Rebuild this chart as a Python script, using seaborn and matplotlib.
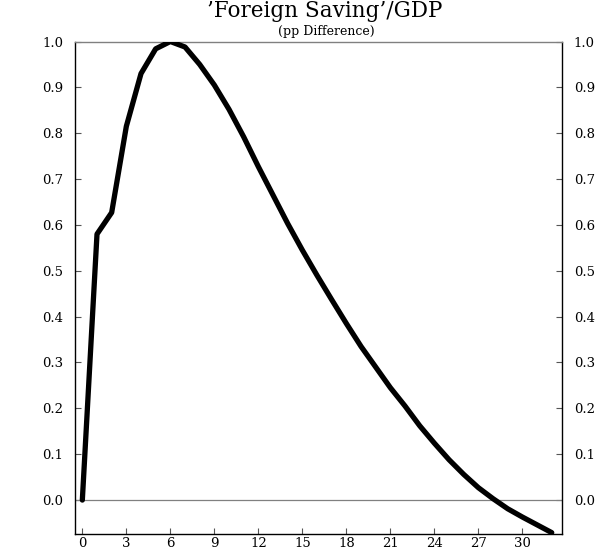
import matplotlib
matplotlib.use("Agg")
import matplotlib.pyplot as plt
import seaborn as sns
import pandas as pd

periods = list(range(0, 33))
values = [0.0, 0.58, 0.627, 0.815, 0.93, 0.984, 1.0, 0.988, 0.95, 0.905,
          0.852, 0.792, 0.727, 0.665, 0.603, 0.545, 0.49, 0.437, 0.385,
          0.335, 0.29, 0.245, 0.205, 0.162, 0.124, 0.088, 0.056, 0.027,
          0.003, -0.019, -0.037, -0.054, -0.071]
yticks = [0.0, 0.1, 0.2, 0.3, 0.4, 0.5, 0.6, 0.7, 0.8, 0.9, 1.0]
xticks = [0, 3, 6, 9, 12, 15, 18, 21, 24, 27, 30]
title = "\u2019Foreign Saving\u2019/GDP"
subtitle = "(pp Difference)"

sns.set_style("ticks")
plt.rcParams['font.family'] = ['DejaVu Serif', 'Liberation Serif']
plt.rcParams['text.color'] = 'black'

df = pd.DataFrame({"period": periods, "value": values})

fig = plt.figure(figsize=(6.09, 5.5), dpi=100)
ax = fig.add_axes([75/609, 16/550, (562-75)/609, (534-41.5)/550])

ax.axhline(0, color="#808080", lw=0.9, zorder=1)
sns.lineplot(data=df, x="period", y="value", ax=ax, color="black", lw=3.8,
             zorder=3)

ax.set_xlim(-0.5, 32.7)
ax.set_ylim(-0.074, 1.0)
ax.set_xticks(xticks)
ax.set_xticklabels([str(t) for t in xticks])
ax.set_yticks(yticks)
ax.set_yticklabels([f"{t:.1f}" for t in yticks])
ax.set_xlabel("")
ax.set_ylabel("")

ax.tick_params(axis="both", direction="in", length=4, width=0.8,
               color="#555555", labelsize=9.5, labelcolor="black")
ax.tick_params(axis="y", left=True, right=True, labelleft=True,
               labelright=True, pad=8.5)
ax.tick_params(axis="x", pad=2)

for side in ["left", "right", "bottom"]:
    ax.spines[side].set_color("black")
    ax.spines[side].set_linewidth(1.0)
ax.spines["top"].set_color("#808080")
ax.spines["top"].set_linewidth(1.0)

fig.text(325/609, 1 - 17.5/550, title, ha="center", va="baseline",
         fontsize=15.5, color="black")
fig.text(326/609, 1 - 34.5/550, subtitle, ha="center", va="baseline",
         fontsize=9, color="black")

fig.savefig("out.png", dpi=100)
